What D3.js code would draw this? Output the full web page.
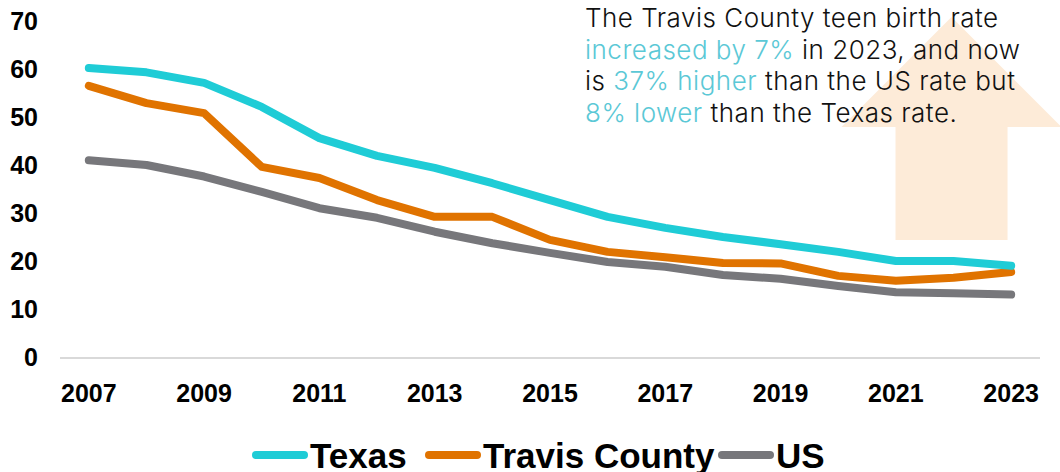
<!DOCTYPE html>
<html>
<head>
<meta charset="utf-8">
<script src="https://cdn.jsdelivr.net/npm/d3@7"></script>
<style>
    body { margin: 0; background: #fff; }
    svg { display: block; }
    .axis-label { font-family: "Liberation Sans", Arial, sans-serif; font-weight: bold; font-size: 25px; fill: #000; }
    .legend-label { font-family: "Liberation Sans", Arial, sans-serif; font-weight: bold; font-size: 35px; fill: #000; }
    .note { font-family: Inter, "Noto Sans", sans-serif; font-weight: 300; font-size: 26px; letter-spacing: 0.5px; fill: #111; }
    .note .hl { fill: #5bc8d6; }
</style>
</head>
<body>
<div class="chart"></div>
<script>
var years = d3.range(2007, 2024);
var yTicks = [0, 10, 20, 30, 40, 50, 60, 70];
var xTickYears = [2007, 2009, 2011, 2013, 2015, 2017, 2019, 2021, 2023];

var texasRates = [60.2, 59.3, 57.1, 52.1, 45.6, 41.9, 39.4, 36.2, 32.7, 29.2, 26.9, 25.0, 23.5, 21.9, 20.0, 20.0, 19.0];
var travisRates = [56.5, 52.9, 50.8, 39.6, 37.3, 32.7, 29.2, 29.2, 24.4, 21.9, 20.8, 19.6, 19.5, 16.9, 15.9, 16.5, 17.7];
var usRates = [41.0, 40.0, 37.6, 34.4, 31.0, 29.0, 26.1, 23.7, 21.7, 19.8, 18.8, 17.1, 16.3, 14.8, 13.5, 13.3, 13.0];

var seriesNames = ["Texas", "Travis County", "US"];
var noteLines = [
    [["The Travis County teen birth rate", false]],
    [["increased by 7%", true], [" in 2023, and now", false]],
    [["is ", false], ["37% higher", true], [" than the US rate but", false]],
    [["8% lower", true], [" than the Texas rate.", false]]
];

(function() {
    var width = 1060,
        height = 472;

    var series = [
        { name: seriesNames[0], values: texasRates, color: "#1fccd6" },
        { name: seriesNames[1], values: travisRates, color: "#e07300" },
        { name: seriesNames[2], values: usRates, color: "#77777b" }
    ];

    var svg = d3.select(".chart").append("svg")
        .attr("width", width)
        .attr("height", height);

    var x = d3.scalePoint()
        .domain(years)
        .range([60, 1040])
        .padding(0.5);

    var y = d3.scaleLinear()
        .domain([0, 70])
        .range([357, 21]);

    //arrow behind the note
    var ax = x(2022) - 2,
        headW = 110,
        shaftW = 56;
    svg.append("path")
        .attr("d", "M" + ax + "," + 17 +
            "L" + (ax + headW) + "," + 127 +
            "L" + (ax + shaftW) + "," + 127 +
            "L" + (ax + shaftW) + "," + 240 +
            "L" + (ax - shaftW) + "," + 240 +
            "L" + (ax - shaftW) + "," + 127 +
            "L" + (ax - headW) + "," + 127 + "Z")
        .style("fill", "#fdebd8");

    //y axis labels
    svg.append("g").selectAll("text")
        .data(yTicks)
        .enter()
        .append("text")
        .attr("class", "axis-label")
        .attr("x", 38)
        .attr("y", function(d) { return y(d); })
        .attr("dy", "0.36em")
        .attr("text-anchor", "end")
        .text(function(d) { return d; });

    //baseline
    svg.append("line")
        .attr("x1", 60)
        .attr("x2", 1040)
        .attr("y1", y(0) + 1)
        .attr("y2", y(0) + 1)
        .style("stroke", "#d9d9d9")
        .style("stroke-width", 2);

    //x axis labels
    svg.append("g").selectAll("text")
        .data(xTickYears)
        .enter()
        .append("text")
        .attr("class", "axis-label")
        .attr("x", function(d) { return x(d); })
        .attr("y", 402)
        .attr("text-anchor", "middle")
        .text(function(d) { return d; });

    //lines
    var line = d3.line()
        .x(function(d, i) { return x(years[i]); })
        .y(function(d) { return y(d); });

    svg.append("g").selectAll("path")
        .data(series.slice().reverse())
        .enter()
        .append("path")
        .attr("d", function(d) { return line(d.values); })
        .style("fill", "none")
        .style("stroke", function(d) { return d.color; })
        .style("stroke-width", 8)
        .style("stroke-linejoin", "round")
        .style("stroke-linecap", "round");

    //note text
    var note = svg.append("text")
        .attr("class", "note")
        .attr("x", 585)
        .attr("y", 27);

    noteLines.forEach(function(parts, i) {
        parts.forEach(function(p, j) {
            var t = note.append("tspan")
                .attr("class", p[1] ? "hl" : null)
                .text(p[0]);
            if (j === 0) {
                t.attr("x", 585).attr("dy", i === 0 ? 0 : 31.5);
            }
        });
    });

    //legend
    var legendX = [252, 425, 718];
    var legend = svg.append("g").selectAll("g")
        .data(series)
        .enter()
        .append("g")
        .attr("transform", function(d, i) { return "translate(" + legendX[i] + ",455)"; });

    legend.append("line")
        .attr("x1", 4)
        .attr("x2", 52)
        .style("stroke", function(d) { return d.color; })
        .style("stroke-width", 8)
        .style("stroke-linecap", "round");

    legend.append("text")
        .attr("class", "legend-label")
        .attr("x", 58)
        .attr("dy", "0.36em")
        .text(function(d) { return d.name; });
})();
</script>
</body>
</html>
